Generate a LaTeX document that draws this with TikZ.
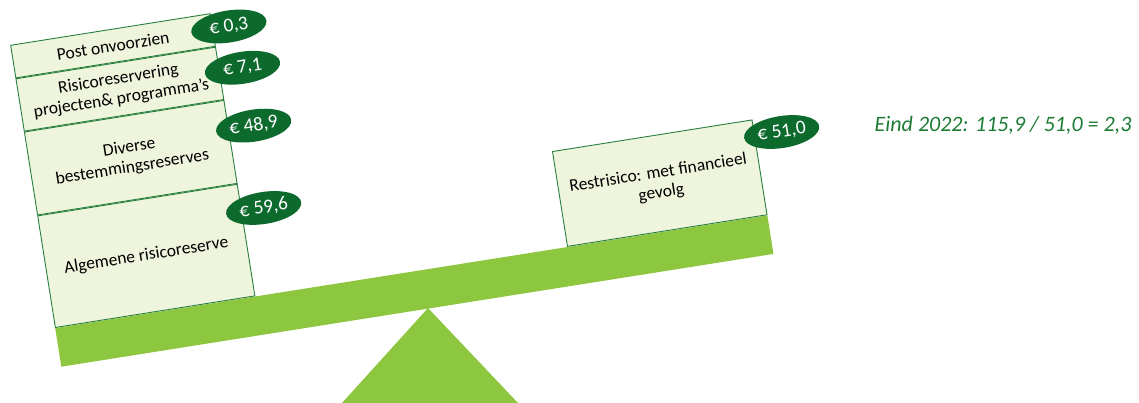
\documentclass[tikz,border=0pt]{standalone}
\usepackage{fontspec}
\setmainfont{Carlito}
\usetikzlibrary{calc,shapes.geometric}
\definecolor{beamF}{HTML}{8DC63F}
\definecolor{boxF}{HTML}{EEF5DC}
\definecolor{boxD}{HTML}{2A7F3E}
\definecolor{eurF}{HTML}{0D6A2D}
\definecolor{noteC}{HTML}{1E7B34}
\tikzset{
  res/.style={draw=boxD, fill=boxF, line width=0.9pt, align=center, anchor=south west,
              minimum width=202pt, inner sep=3pt, font=\fontsize{17.5}{20}\selectfont},
  eur/.style={ellipse, fill=eurF, text=white, minimum width=76pt, minimum height=32pt,
              inner sep=0pt, font=\fontsize{19.5}{22}\selectfont},
  beam/.style={fill=beamF, draw=none},
}
\begin{document}
\begin{tikzpicture}[x=1pt,y=1pt]
\useasboundingbox (0,0) rectangle (1139,403);
% pivot
\fill[beamF] (428,95) -- (342,0) -- (518,0) -- cycle;
\begin{scope}[shift={(55,75)}, rotate=9, transform shape]
% beam
\node[beam, anchor=north west, minimum width=721pt, minimum height=39pt, inner sep=0pt] (plank) at (0,0) {};
% left side: reserves
\node[res, minimum height=113pt] (algemeen) at (plank.north west) {Algemene risicoreserve};
\node[res, minimum height=84pt] (divers) at (algemeen.north west) {Diverse\\bestemmingsreserves};
\node[res, minimum height=53pt] (risico) at (divers.north west) {Risicoreservering\\projecten\& programma’s};
\node[res, minimum height=33pt] (post) at (risico.north west) {Post onvoorzien};
% right side: risk
\node[res, minimum height=96pt, anchor=south east] (rest) at (plank.north east) {Restrisico: met financieel\\gevolg};
% amounts
\node[eur] (e1) at ($(post.north east)+(16,-16)$) {€ 0,3};
\node[eur] (e2) at ($(risico.north east)+(23,-25)$) {€ 7,1};
\node[eur] (e3) at ($(divers.north east)+(25,-30)$) {€ 48,9};
\node[eur] (e4) at ($(algemeen.north east)+(22,-28)$) {€ 59,6};
\node[eur] (e5) at ($(rest.north east)+(27,-17)$) {€ 51,0};
\end{scope}
\node[text=noteC, font=\fontsize{22}{26}\selectfont\itshape] (ratio) at (1003,278) {Eind 2022: 115,9 / 51,0 = 2,3};
\end{tikzpicture}
\end{document}
